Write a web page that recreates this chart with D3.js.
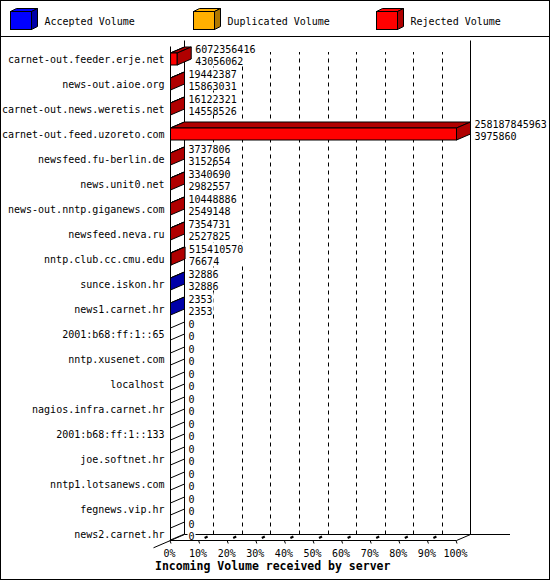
<!DOCTYPE html>
<html lang="en">
  <head>
    <meta charset="UTF-8" />
    <title>Incoming Volume received by server</title>
    <style>
      body { margin: 0; background: #fff; }
      text { font-family: "DejaVu Sans Mono", monospace; font-size: 10px; fill: #000; }
    </style>
  </head>
  <body>
    <script src="https://d3js.org/d3.v7.min.js"></script>
    <script>
      const width = 550;
      const height = 580;

      const hosts = [
        "carnet-out.feeder.erje.net",
        "news-out.aioe.org",
        "carnet-out.news.weretis.net",
        "carnet-out.feed.uzoreto.com",
        "newsfeed.fu-berlin.de",
        "news.unit0.net",
        "news-out.nntp.giganews.com",
        "newsfeed.neva.ru",
        "nntp.club.cc.cmu.edu",
        "sunce.iskon.hr",
        "news1.carnet.hr",
        "2001:b68:ff:1::65",
        "nntp.xusenet.com",
        "localhost",
        "nagios.infra.carnet.hr",
        "2001:b68:ff:1::133",
        "joe.softnet.hr",
        "nntp1.lotsanews.com",
        "fegnews.vip.hr",
        "news2.carnet.hr",
      ];
      const totalVolume = [
        6072356416, 19442387, 16122321, 258187845963, 3737806, 3340690,
        10448886, 7354731, 515410570, 32886, 2353, 0, 0, 0, 0, 0, 0, 0, 0, 0,
      ];
      const acceptedVolume = [
        43056062, 15863031, 14558526, 3975860, 3152654, 2982557, 2549148,
        2527825, 76674, 32886, 2353, 0, 0, 0, 0, 0, 0, 0, 0, 0,
      ];
      const duplicatedVolume = [
        0, 0, 0, 0, 0, 0, 0, 0, 0, 0, 0, 0, 0, 0, 0, 0, 0, 0, 0, 0,
      ];
      const percentTicks = [0, 10, 20, 30, 40, 50, 60, 70, 80, 90, 100];
      const legendLabels = ["Accepted Volume", "Duplicated Volume", "Rejected Volume"];

      const colors = [
        { front: "#0000ff", side: "#0000a8" },
        { front: "#ffb000", side: "#b07800" },
        { front: "#ff0000", side: "#b00000" },
      ];

      // 3d depth of the plot
      const dx = 14;
      const dy = -6;
      const floorY = 540.5;
      const topY = 46.5;
      const barHalf = 6;

      const svg = d3
        .select("body")
        .append("svg")
        .attr("width", width)
        .attr("height", height);

      svg.append("rect")
        .attr("x", 0.5).attr("y", 0.5)
        .attr("width", width - 1).attr("height", height - 1)
        .attr("fill", "#fff").attr("stroke", "#000");

      svg.append("line")
        .attr("x1", 0).attr("x2", width)
        .attr("y1", 36.5).attr("y2", 36.5)
        .attr("stroke", "#000");

      // legend
      const cube = (g, x, y, w, h, d, c) => {
        g.append("path")
          .attr("d", `M${x},${y}L${x + d},${y - d / 2}L${x + w + d},${y - d / 2}L${x + w},${y}Z`)
          .attr("fill", c.front).attr("stroke", "#000");
        g.append("path")
          .attr("d", `M${x + w},${y}L${x + w + d},${y - d / 2}L${x + w + d},${y + h - d / 2}L${x + w},${y + h}Z`)
          .attr("fill", c.side).attr("stroke", "#000");
        g.append("rect")
          .attr("x", x).attr("y", y).attr("width", w).attr("height", h)
          .attr("fill", c.front).attr("stroke", "#000");
      };

      const legendX = d3.scaleLinear().domain([0, 1]).range([10.5, 193.5]);
      legendLabels.forEach((label, i) => {
        const g = svg.append("g");
        cube(g, legendX(i), 11.5, 21, 18, 6, colors[i]);
        g.append("text")
          .attr("x", legendX(i) + 34)
          .attr("y", 24.5)
          .text(label);
      });

      // scales
      const pct = d3.scaleLinear().domain([0, 100]).range([170.5, 456.5]);
      const x = d3
        .scaleLinear()
        .domain([0, d3.max(totalVolume)])
        .range(pct.range());
      const y = d3.scalePoint().domain(hosts).range([59, 534]);

      // walls and floor
      const frame = svg.append("g").attr("stroke", "#000").attr("fill", "none");
      frame.append("line")
        .attr("x1", pct(0)).attr("x2", pct(0))
        .attr("y1", topY).attr("y2", floorY);
      frame.append("line")
        .attr("x1", pct(0) + dx).attr("x2", pct(0) + dx)
        .attr("y1", topY + dy).attr("y2", floorY + dy);
      frame.append("line")
        .attr("x1", pct(100) + dx).attr("x2", pct(100) + dx)
        .attr("y1", topY + dy).attr("y2", floorY + dy);
      frame.append("line")
        .attr("x1", pct(0) + dx).attr("x2", 510)
        .attr("y1", floorY + dy).attr("y2", floorY + dy);
      frame.append("line")
        .attr("x1", pct(0)).attr("x2", pct(100))
        .attr("y1", floorY).attr("y2", floorY);
      frame.append("line")
        .attr("x1", pct(0) - 17).attr("x2", pct(0) + dx)
        .attr("y1", floorY - (dy * 17) / dx).attr("y2", floorY + dy);
      frame.append("line")
        .attr("x1", pct(100)).attr("x2", pct(100) + dx)
        .attr("y1", floorY).attr("y2", floorY + dy);

      // dashed grid on the back wall
      svg.append("g")
        .selectAll("line")
        .data(percentTicks.slice(1, -1))
        .join("line")
        .attr("x1", (d) => Math.round(pct(d) + dx) + 0.5)
        .attr("x2", (d) => Math.round(pct(d) + dx) + 0.5)
        .attr("y1", floorY + dy)
        .attr("y2", 52)
        .attr("stroke", "#000")
        .attr("stroke-dasharray", "4,4");

      // depth stubs on the floor
      svg.append("g")
        .selectAll("line")
        .data(percentTicks.slice(1, -1))
        .join("line")
        .attr("x1", (d) => pct(d) + 5.5)
        .attr("x2", (d) => pct(d) + 8.5)
        .attr("y1", floorY - 2.5)
        .attr("y2", floorY - 4)
        .attr("stroke", "#000")
        .attr("stroke-width", 2);

      // bottom axis
      const xAxis = svg
        .append("g")
        .attr("transform", `translate(0,${floorY})`)
        .call(
          d3.axisBottom(pct)
            .tickValues(percentTicks)
            .tickFormat((d) => d + "%")
            .tickSize(3)
            .tickPadding(6)
            .tickSizeOuter(0)
        );
      xAxis.select(".domain").remove();
      xAxis.selectAll(".tick line").attr("stroke", "#000").attr("x1", -1);
      xAxis.selectAll(".tick text")
        .attr("font-family", "DejaVu Sans Mono")
        .attr("font-size", 10)
        .attr("dx", -1.5);

      // host labels
      const yAxis = svg
        .append("g")
        .attr("transform", `translate(${pct(0)},0)`)
        .call(d3.axisLeft(y).tickSize(0).tickPadding(6));
      yAxis.select(".domain").remove();
      yAxis.selectAll(".tick text")
        .attr("font-family", "DejaVu Sans Mono")
        .attr("font-size", 10);

      // rows
      const rows = hosts.map((h, i) => {
        const segs = [acceptedVolume[i], duplicatedVolume[i], totalVolume[i] - acceptedVolume[i] - duplicatedVolume[i]];
        return { host: h, total: totalVolume[i], accepted: acceptedVolume[i], segs };
      });

      const labels = svg.append("g");
      rows.forEach((r) => {
        const yc = y(r.host);
        const tx = x(r.total) + dx + 4;
        const w = Math.max(String(r.total).length, String(r.accepted).length) * 6.02;
        labels.append("rect")
          .attr("x", tx - 1).attr("y", yc - 16.5)
          .attr("width", w + 2).attr("height", 21.5)
          .attr("fill", "#fff");
        labels.append("text").attr("x", tx).attr("y", yc - 6).text(r.total);
        labels.append("text").attr("x", tx).attr("y", yc + 5.5).text(r.accepted);
      });

      const bars = svg.append("g").attr("stroke", "#000").attr("stroke-width", 1);
      rows.forEach((r) => {
        const yt = y(r.host) - barHalf;
        const yb = y(r.host) + barHalf;
        let acc = 0;
        let last = null;
        r.segs.forEach((v, k) => {
          if (v <= 0) return;
          const x0 = x(acc);
          const x1 = x(acc + v);
          acc += v;
          bars.append("path")
            .attr("d", `M${x0},${yt}L${x0 + dx},${yt + dy}L${x1 + dx},${yt + dy}L${x1},${yt}Z`)
            .attr("fill", colors[k].side);
          bars.append("rect")
            .attr("x", x0).attr("y", yt)
            .attr("width", x1 - x0).attr("height", yb - yt)
            .attr("fill", colors[k].front);
          last = { x1, c: colors[k].side };
        });
        const x1 = last ? last.x1 : x(0);
        bars.append("path")
          .attr("d", `M${x1},${yt}L${x1 + dx},${yt + dy}L${x1 + dx},${yb + dy}L${x1},${yb}Z`)
          .attr("fill", last ? last.c : "#fff");
      });

      svg.append("text")
        .attr("x", 155)
        .attr("y", 570)
        .attr("font-weight", "bold")
        .attr("font-size", 11.5)
        .style("font-size", "11.5px")
        .text("Incoming Volume received by server");
    </script>
  </body>
</html>
